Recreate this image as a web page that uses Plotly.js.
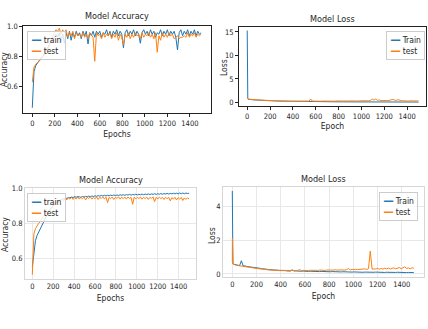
<!DOCTYPE html>
<html>
<head>
<meta charset="utf-8">
<script src="https://cdn.plot.ly/plotly-3.0.1.min.js"></script>
<style>html,body{margin:0;padding:0;background:#fff;}#chart{width:428px;height:329px;}</style>
</head>
<body>
<div id="chart"></div>
<script>
// ---------- DATA ----------
// accuracy panels: one sample every 15 epochs, 0..1500
const accEpochs = Array.from({length: 101}, (_, i) => i * 15);
// loss panels: first few epochs, then one sample every 15 epochs
const lossEarlyEpochs = [0, 1, 2, 3, 5, 8];
const lossEpochs = lossEarlyEpochs.concat(Array.from({length: 100}, (_, i) => 15 + i * 15));

const xTicks = [0, 200, 400, 600, 800, 1000, 1200, 1400];

// Panel 1 (top-left) Model Accuracy
const acc1Train = [
  0.46,0.70,0.74,0.76,0.77,0.79,0.80,0.82,0.84,0.86,
  0.88,0.90,0.92,0.93,0.95,0.93,0.96,0.90,0.95,0.89,
  0.96,0.92,0.97,0.91,0.96,0.93,0.97,0.94,0.96,0.92,
  0.97,0.94,0.97,0.885,0.96,0.94,0.97,0.93,0.97,0.95,
  0.97,0.93,0.96,0.95,0.98,0.94,0.97,0.93,0.97,0.95,
  0.98,0.94,0.97,0.95,0.86,0.96,0.98,0.94,0.97,0.95,
  0.98,0.94,0.97,0.95,0.89,0.96,0.98,0.95,0.97,0.94,
  0.98,0.95,0.97,0.93,0.96,0.95,0.98,0.94,0.97,0.95,
  0.98,0.94,0.97,0.95,0.97,0.93,0.845,0.96,0.98,0.94,
  0.97,0.95,0.98,0.94,0.97,0.95,0.98,0.94,0.97,0.95,
  0.96
];
const acc1Test = [
  0.63,0.73,0.75,0.76,0.77,0.78,0.80,0.81,0.83,0.85,
  0.87,0.91,0.94,0.96,0.98,0.97,0.99,0.95,0.98,0.96,
  0.98,0.93,0.96,0.94,0.97,0.92,0.96,0.94,0.95,0.93,
  0.96,0.93,0.95,0.92,0.96,0.94,0.93,0.77,0.96,0.94,
  0.95,0.92,0.96,0.93,0.95,0.94,0.96,0.92,0.95,0.93,
  0.96,0.91,0.95,0.93,0.88,0.95,0.93,0.96,0.92,0.95,
  0.93,0.96,0.94,0.95,0.92,0.96,0.93,0.95,0.94,0.96,
  0.93,0.95,0.92,0.96,0.83,0.94,0.91,0.96,0.93,0.95,
  0.93,0.96,0.94,0.95,0.92,0.93,0.94,0.92,0.93,0.93,
  0.94,0.93,0.96,0.93,0.95,0.94,0.96,0.93,0.95,0.94,
  0.95
];

// Panel 2 (top-right) Model Loss
const loss2Train = [
  15.3,2.6,4.8,1.0,0.8,0.7,
  0.65,0.60,0.58,0.55,0.52,0.50,0.48,0.46,0.44,0.42,
  0.40,0.38,0.36,0.34,0.33,0.32,0.31,0.30,0.29,0.28,
  0.27,0.26,0.25,0.25,0.24,0.23,0.23,0.22,0.22,0.21,
  0.21,0.20,0.20,0.19,0.19,0.22,0.18,0.18,0.18,0.17,
  0.17,0.17,0.16,0.16,0.16,0.15,0.15,0.15,0.15,0.14,
  0.14,0.14,0.14,0.14,0.13,0.13,0.13,0.13,0.13,0.12,
  0.12,0.12,0.12,0.12,0.12,0.11,0.11,0.11,0.11,0.11,
  0.11,0.11,0.20,0.11,0.10,0.10,0.10,0.10,0.10,0.10,
  0.10,0.10,0.10,0.10,0.15,0.10,0.10,0.09,0.09,0.09,
  0.09,0.09,0.09,0.09,0.09,0.09,0.09,0.09,0.09,0.09
];
const loss2Test = [
  1.1,0.95,0.9,0.85,0.8,0.75,
  0.70,0.65,0.62,0.60,0.58,0.55,0.53,0.50,0.48,0.46,
  0.42,0.38,0.35,0.33,0.30,0.30,0.28,0.28,0.27,0.27,
  0.26,0.27,0.25,0.27,0.26,0.25,0.27,0.25,0.27,0.26,
  0.27,0.25,0.28,0.26,0.29,0.27,0.75,0.30,0.27,0.28,
  0.26,0.29,0.27,0.30,0.28,0.30,0.27,0.31,0.29,0.30,
  0.28,0.32,0.30,0.31,0.29,0.33,0.30,0.32,0.31,0.33,
  0.30,0.34,0.32,0.35,0.31,0.36,0.33,0.38,0.34,0.37,
  0.35,0.45,0.70,0.50,0.75,0.45,0.55,0.40,0.45,0.38,
  0.42,0.38,0.45,0.55,0.65,0.50,0.45,0.60,0.40,0.38,
  0.36,0.30,0.34,0.30,0.35,0.31,0.34,0.30,0.33,0.32
];

// Panel 3 (bottom-left) Model Accuracy
const acc3Train = [
  0.55,0.64,0.70,0.73,0.75,0.76,0.78,0.80,0.82,0.84,
  0.86,0.875,0.89,0.90,0.91,0.92,0.925,0.93,0.935,0.94,
  0.942,0.946,0.944,0.949,0.947,0.952,0.949,0.954,0.951,0.955,
  0.953,0.950,0.955,0.952,0.956,0.953,0.957,0.954,0.958,0.955,
  0.959,0.956,0.960,0.957,0.961,0.958,0.962,0.958,0.962,0.959,
  0.963,0.960,0.964,0.960,0.964,0.961,0.965,0.962,0.965,0.962,
  0.966,0.963,0.967,0.963,0.967,0.964,0.968,0.964,0.968,0.965,
  0.969,0.965,0.969,0.966,0.970,0.966,0.970,0.967,0.971,0.967,
  0.971,0.968,0.972,0.968,0.972,0.969,0.973,0.969,0.973,0.970,
  0.974,0.970,0.974,0.970,0.975,0.971,0.975,0.971,0.975,0.972,
  0.974
];
const acc3Test = [
  0.505,0.74,0.77,0.79,0.80,0.81,0.83,0.84,0.85,0.86,
  0.87,0.88,0.89,0.90,0.91,0.92,0.925,0.93,0.935,0.94,
  0.930,0.945,0.935,0.948,0.940,0.950,0.938,0.950,0.940,0.952,
  0.940,0.950,0.942,0.952,0.935,0.950,0.943,0.953,0.940,0.950,
  0.942,0.952,0.938,0.950,0.944,0.953,0.940,0.951,0.920,0.950,
  0.943,0.952,0.938,0.950,0.944,0.953,0.940,0.951,0.943,0.952,
  0.940,0.952,0.944,0.950,0.910,0.952,0.941,0.950,0.943,0.952,
  0.940,0.950,0.943,0.952,0.938,0.950,0.944,0.953,0.925,0.950,
  0.940,0.952,0.943,0.950,0.938,0.951,0.942,0.950,0.930,0.948,
  0.940,0.950,0.935,0.948,0.940,0.950,0.932,0.947,0.938,0.948,
  0.940
];

// Panel 4 (bottom-right) Model Loss
const loss4Train = [
  4.9,0.75,0.65,0.62,0.60,0.58,
  0.56,0.53,0.52,0.49,0.78,0.47,0.48,0.44,0.43,0.41,
  0.40,0.37,0.37,0.34,0.34,0.31,0.31,0.29,0.28,0.26,
  0.26,0.24,0.24,0.22,0.22,0.20,0.21,0.19,0.20,0.18,
  0.19,0.17,0.25,0.17,0.18,0.16,0.17,0.16,0.17,0.15,
  0.16,0.15,0.16,0.15,0.15,0.14,0.15,0.14,0.15,0.14,
  0.14,0.13,0.14,0.13,0.14,0.13,0.13,0.12,0.13,0.12,
  0.13,0.12,0.13,0.11,0.12,0.11,0.12,0.11,0.12,0.11,
  0.12,0.10,0.11,0.10,0.11,0.10,0.11,0.10,0.11,0.10,
  0.11,0.09,0.10,0.09,0.10,0.09,0.10,0.09,0.10,0.09,
  0.10,0.09,0.10,0.08,0.09,0.08,0.09,0.08,0.09,0.08
];
const loss4Test = [
  0.7,2.1,0.9,0.65,0.60,0.58,
  0.55,0.52,0.50,0.48,0.46,0.44,0.42,0.40,0.39,0.38,
  0.36,0.34,0.33,0.31,0.30,0.29,0.27,0.26,0.25,0.24,
  0.23,0.22,0.22,0.21,0.20,0.20,0.19,0.19,0.19,0.19,
  0.19,0.20,0.18,0.21,0.19,0.20,0.26,0.20,0.21,0.20,
  0.21,0.20,0.22,0.20,0.21,0.22,0.20,0.23,0.21,0.22,
  0.21,0.23,0.22,0.24,0.22,0.23,0.25,0.22,0.24,0.23,
  0.25,0.23,0.26,0.32,0.24,0.27,0.25,0.28,0.26,0.27,
  0.29,0.26,0.30,0.27,0.31,1.35,0.28,0.30,0.29,0.33,
  0.28,0.32,0.29,0.34,0.30,0.35,0.29,0.33,0.36,0.30,
  0.34,0.38,0.31,0.35,0.42,0.32,0.36,0.30,0.37,0.33
];

// ---------- STYLE ----------
const BLUE = '#1f77b4', ORANGE = '#ff7f0e';
const FONT = '"DejaVu Sans Condensed", "Liberation Sans Narrow", "DejaVu Sans", sans-serif';
const TXT = '#262626';

function tr(x, y, name, color, xa, ya) {
  return {x: x, y: y, name: name, type: 'scatter', mode: 'lines',
          line: {color: color, width: 1}, xaxis: xa, yaxis: ya,
          showlegend: false, hoverinfo: 'skip'};
}

const data = [
  tr(accEpochs, acc1Train, 'train', BLUE, 'x', 'y'),
  tr(accEpochs, acc1Test, 'test', ORANGE, 'x', 'y'),
  tr(lossEpochs, loss2Train, 'Train', BLUE, 'x2', 'y2'),
  tr(lossEpochs, loss2Test, 'test', ORANGE, 'x2', 'y2'),
  tr(accEpochs, acc3Train, 'train', BLUE, 'x3', 'y3'),
  tr(accEpochs, acc3Test, 'test', ORANGE, 'x3', 'y3'),
  tr(lossEpochs, loss4Train, 'Train', BLUE, 'x4', 'y4'),
  tr(lossEpochs, loss4Test, 'test', ORANGE, 'x4', 'y4')
];

function xAx(domain, range, anchor, classic, title, standoff) {
  return {
    domain: domain, range: range, anchor: anchor, tickvals: xTicks,
    showline: true, mirror: true, linecolor: classic ? '#222' : '#d6d6d6', linewidth: 1,
    showgrid: !classic, gridcolor: '#e8e8e8', gridwidth: 1, zeroline: false,
    ticks: classic ? 'outside' : '', ticklen: 3, tickcolor: '#222',
    tickfont: {size: 7.5, color: TXT}, automargin: false,
    title: {text: title, font: {size: 8.5, color: TXT}, standoff: standoff}
  };
}
function yAx(domain, range, anchor, classic, tickvals, fmt) {
  return {
    domain: domain, range: range, anchor: anchor, tickvals: tickvals, tickformat: fmt,
    showline: true, mirror: true, linecolor: classic ? '#222' : '#d6d6d6', linewidth: 1,
    showgrid: !classic, gridcolor: '#e8e8e8', gridwidth: 1, zeroline: false,
    ticks: classic ? 'outside' : '', ticklen: 3, tickcolor: '#222',
    tickfont: {size: 7.5, color: TXT}, automargin: false
  };
}

// compact matplotlib-style legends (drawn as text boxes)
function legendBox(labels, x, y, xanchor) {
  const rows = labels.map((lab, i) =>
    '<span style="color:' + (i === 0 ? BLUE : ORANGE) + '">━━</span> ' + lab);
  return {text: rows.join('<br>'), x: x, y: y, xref: 'paper', yref: 'paper',
          xanchor: xanchor, yanchor: 'top', align: 'left', showarrow: false,
          bgcolor: 'rgba(255,255,255,0.8)', bordercolor: '#cccccc', borderwidth: 1,
          borderpad: 3, font: {size: 8.5, color: TXT, family: FONT}};
}
function titleAnn(text, x, y) {
  return {text: text, x: x, y: y, xref: 'paper', yref: 'paper', xanchor: 'center',
          yanchor: 'middle', showarrow: false, font: {size: 9, color: TXT, family: FONT}};
}
function yTitle(text, xpx, ypx) {
  return {text: text, x: xpx / 428, y: 1 - ypx / 329, xref: 'paper', yref: 'paper',
          xanchor: 'center', yanchor: 'middle', textangle: -90, showarrow: false,
          font: {size: 8.5, color: TXT, family: FONT}};
}

const layout = {
  width: 428, height: 329,
  margin: {l: 0, r: 0, t: 0, b: 0},
  paper_bgcolor: '#ffffff', plot_bgcolor: '#ffffff',
  font: {family: FONT, color: TXT, size: 8},
  showlegend: false,
  xaxis:  xAx([0.0544, 0.4923], [-80, 1585], 'y', true, 'Epochs', 3),
  yaxis:  yAx([0.6555, 0.9210], [0.423, 1.005], 'x', true, [0.6, 0.8, 1.0], '.1f'),
  xaxis2: xAx([0.5584, 0.9953], [-72, 1565], 'y2', true, 'Epoch', 2),
  yaxis2: yAx([0.6778, 0.9179], [-0.75, 16.05], 'x2', true, [0, 5, 10, 15], 'd'),
  xaxis3: xAx([0.0584, 0.4579], [-70, 1566], 'y3', false, 'Epochs', 5),
  yaxis3: yAx([0.1520, 0.4286], [0.48, 1.004], 'x3', false, [0.6, 0.8, 1.0], '.1f'),
  xaxis4: xAx([0.5210, 0.9907], [-77, 1584], 'y4', false, 'Epoch', 5),
  yaxis4: yAx([0.1580, 0.4316], [-0.18, 5.13], 'x4', false, [0, 2, 4], 'd'),
  annotations: [
    titleAnn('Model Accuracy', 0.2734, 1 - 16/329),
    titleAnn('Model Loss', 0.7769, 1 - 19/329),
    titleAnn('Model Accuracy', 0.2582, 1 - 180/329),
    titleAnn('Model Loss', 0.7558, 1 - 179/329),
    yTitle('Accuracy', 4, 70),
    yTitle('Loss', 224, 67),
    yTitle('Accuracy', 5, 235),
    yTitle('Loss', 212, 236),
    legendBox(['train', 'test'], 27/428, 1 - 31/329, 'left'),
    legendBox(['Train', 'test'], 425/428, 1 - 31/329, 'right'),
    legendBox(['train', 'test'], 27/428, 1 - 193/329, 'left'),
    legendBox(['Train', 'test'], 418/428, 1 - 192/329, 'right')
  ]
};

Plotly.newPlot('chart', data, layout, {staticPlot: true, displayModeBar: false});
</script>
</body>
</html>
